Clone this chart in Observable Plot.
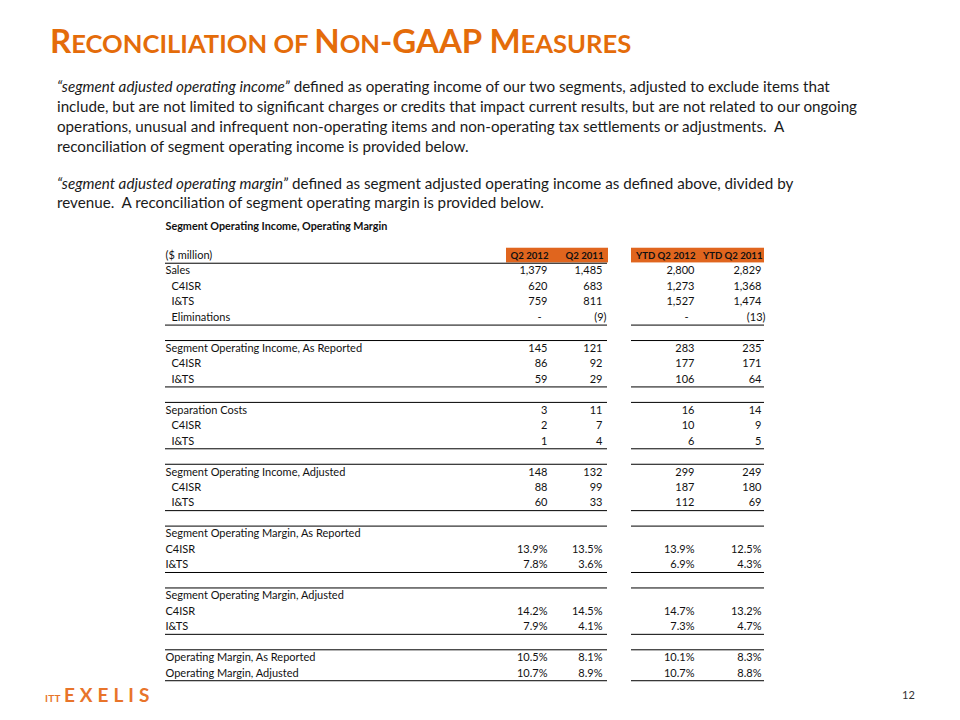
<!DOCTYPE html>
<html><head><meta charset="utf-8">
<script src="https://cdn.jsdelivr.net/npm/d3@7"></script>
<script src="https://cdn.jsdelivr.net/npm/@observablehq/plot@0.6"></script>
<style>
html,body{margin:0;padding:0;background:#fff;}
#slide{position:relative;width:960px;height:720px;overflow:hidden;font-family:Lato,"Open Sans",sans-serif;}
#chart{position:absolute;left:0;top:0;}
#title{position:absolute;left:50px;top:25px;color:#E46C0A;font-weight:bold;white-space:nowrap;line-height:30px;}
#title .b{font-size:33px;}
#title .s{font-size:25.6px;}
.para{position:absolute;left:57px;color:#1a1a1a;font-size:15.2px;white-space:nowrap;}
.para i{font-style:italic;}
#p1{top:75.5px;line-height:20.3px;}
#p2{top:173.5px;line-height:19px;}
#logo{position:absolute;left:45px;top:684px;color:#E8742A;font-weight:bold;white-space:nowrap;line-height:22px;}
#logo .itt{font-size:10px;letter-spacing:0.3px;}
#logo .ex{font-size:19px;letter-spacing:5px;margin-left:3px;}
#page{position:absolute;left:902px;top:689px;font-size:11px;color:#333;line-height:11px;}
</style></head><body>
<div id="slide">
  <div id="chart"></div>
  <div id="title"><span class="b">R</span><span class="s">ECONCILIATION OF </span><span class="b">N</span><span class="s">ON</span><span class="b">-GAAP M</span><span class="s">EASURES</span></div>
  <div class="para" id="p1"><i>“segment adjusted operating income”</i> defined as operating income of our two segments, adjusted to exclude items that<br>include, but are not limited to significant charges or credits that impact current results, but are not related to our ongoing<br>operations, unusual and infrequent non-operating items and non-operating tax settlements or adjustments.&nbsp; A<br>reconciliation of segment operating income is provided below.</div>
  <div class="para" id="p2"><i>“segment adjusted operating margin”</i> defined as segment adjusted operating income as defined above, divided by<br>revenue.&nbsp; A reconciliation of segment operating margin is provided below.</div>
  <div id="logo"><span class="itt">ITT</span><span class="ex">EXELIS</span></div>
  <div id="page">12</div>
</div>
<script>
// ---- data ----
const tableTitle = "Segment Operating Income, Operating Margin";
const unitLabel = "($ million)";
const columns = ["Q2 2012", "Q2 2011", "YTD Q2 2012", "YTD Q2 2011"];
const rowLabels = [
  "Sales", "C4ISR", "I&TS", "Eliminations", null,
  "Segment Operating Income, As Reported", "C4ISR", "I&TS", null,
  "Separation Costs", "C4ISR", "I&TS", null,
  "Segment Operating Income, Adjusted", "C4ISR", "I&TS", null,
  "Segment Operating Margin, As Reported", "C4ISR", "I&TS", null,
  "Segment Operating Margin, Adjusted", "C4ISR", "I&TS", null,
  "Operating Margin, As Reported", "Operating Margin, Adjusted"
];
const rowIndented = [0,1,1,1,0, 0,1,1,0, 0,1,1,0, 0,1,1,0, 0,0,0,0, 0,0,0,0, 0,0];
const rowUnit = ["$","$","$","$","", "$","$","$","", "$","$","$","", "$","$","$","", "","%","%","", "","%","%","", "%","%"];
const q2_2012  = [1379, 620, 759, 0, null, 145, 86, 59, null, 3, 2, 1, null, 148, 88, 60, null, null, 13.9, 7.8, null, null, 14.2, 7.9, null, 10.5, 10.7];
const q2_2011  = [1485, 683, 811, -9, null, 121, 92, 29, null, 11, 7, 4, null, 132, 99, 33, null, null, 13.5, 3.6, null, null, 14.5, 4.1, null, 8.1, 8.9];
const ytd_2012 = [2800, 1273, 1527, 0, null, 283, 177, 106, null, 16, 10, 6, null, 299, 187, 112, null, null, 13.9, 6.9, null, null, 14.7, 7.3, null, 10.1, 10.7];
const ytd_2011 = [2829, 1368, 1474, -13, null, 235, 171, 64, null, 14, 9, 5, null, 249, 180, 69, null, null, 12.5, 4.3, null, null, 13.2, 4.7, null, 8.3, 8.8];
const seriesByColumn = [q2_2012, q2_2011, ytd_2012, ytd_2011];

// ---- layout (styling only) ----
const labelX = 165, indentPx = 6;
const colRight = [547, 602, 694, 761];
const headerBox = [[506, 556], [556, 608], [631, 697], [697, 764]];
const blocks = [[165, 607], [631, 764]];
const orange = "#E0651E";
const font = "Lato, 'Open Sans', sans-serif";

// ---- build tables ----
const fmtNum = d3.format(",");
function fmt(v, unit) {
  if (unit === "%") return v.toFixed(1) + "%";
  if (v === 0) return "-";
  if (v < 0) return "(" + fmtNum(-v) + ")";
  return fmtNum(v);
}
const cells = [];
seriesByColumn.forEach((series, j) => {
  series.forEach((v, i) => {
    if (v == null) return;
    const u = rowUnit[i];
    cells.push({row: i, col: j, text: fmt(v, u),
      shift: (u === "$" && v < 0) ? 4 : (u === "$" && v === 0) ? -6 : 0});
  });
});
const labels = rowLabels.map((t, i) => ({row: i, text: t, indent: rowIndented[i]})).filter(d => d.text);
const headers = columns.map((c, j) => ({col: j, text: c}));

// separator lines: around each blank row, below the last row
const blankRows = rowLabels.map((t, i) => t == null ? i : -1).filter(i => i >= 0);
const lineYs = blankRows.flatMap(b => [b - 0.5, b + 0.5]).concat([rowLabels.length - 1 + 0.5]);
const lines = lineYs.flatMap(y => blocks.map(([a, b]) => ({y, x1: a, x2: b})));
lines.push({y: -0.5, x1: blocks[0][0], x2: blocks[0][1]});

const chart = Plot.plot({
  width: 960, height: 720, margin: 0,
  style: {fontFamily: font, fontSize: "11px", color: "#111", background: "transparent"},
  x: {type: "linear", domain: [0, 960], range: [0, 960], axis: null},
  y: {type: "linear", domain: [-1, rowLabels.length - 1], range: [255, 672.5], axis: null},
  marks: [
    Plot.rect(headers, {x1: d => headerBox[d.col][0], x2: d => headerBox[d.col][1], y1: () => -1.47, y2: () => -0.52, fill: orange}),
    Plot.ruleY(lines, {y: "y", x1: "x1", x2: "x2", stroke: "#000", strokeWidth: 1}),
    Plot.text([tableTitle], {x: () => labelX, y: () => -1, dy: -29, text: d => d, textAnchor: "start", fontWeight: "bold", fontSize: 10.8}),
    Plot.text([unitLabel], {x: () => labelX, y: () => -1, text: d => d, textAnchor: "start"}),
    Plot.text(headers, {x: d => colRight[d.col], y: () => -1, text: "text", textAnchor: "end", fontWeight: "bold", fontSize: 9.6, dx: 1}),
    Plot.text(labels, {x: d => labelX + d.indent * indentPx, y: "row", text: "text", textAnchor: "start"}),
    Plot.text(cells, {x: d => colRight[d.col] + d.shift, y: "row", text: "text", textAnchor: "end"})
  ]
});
document.getElementById("chart").appendChild(chart);
</script>
</body></html>
